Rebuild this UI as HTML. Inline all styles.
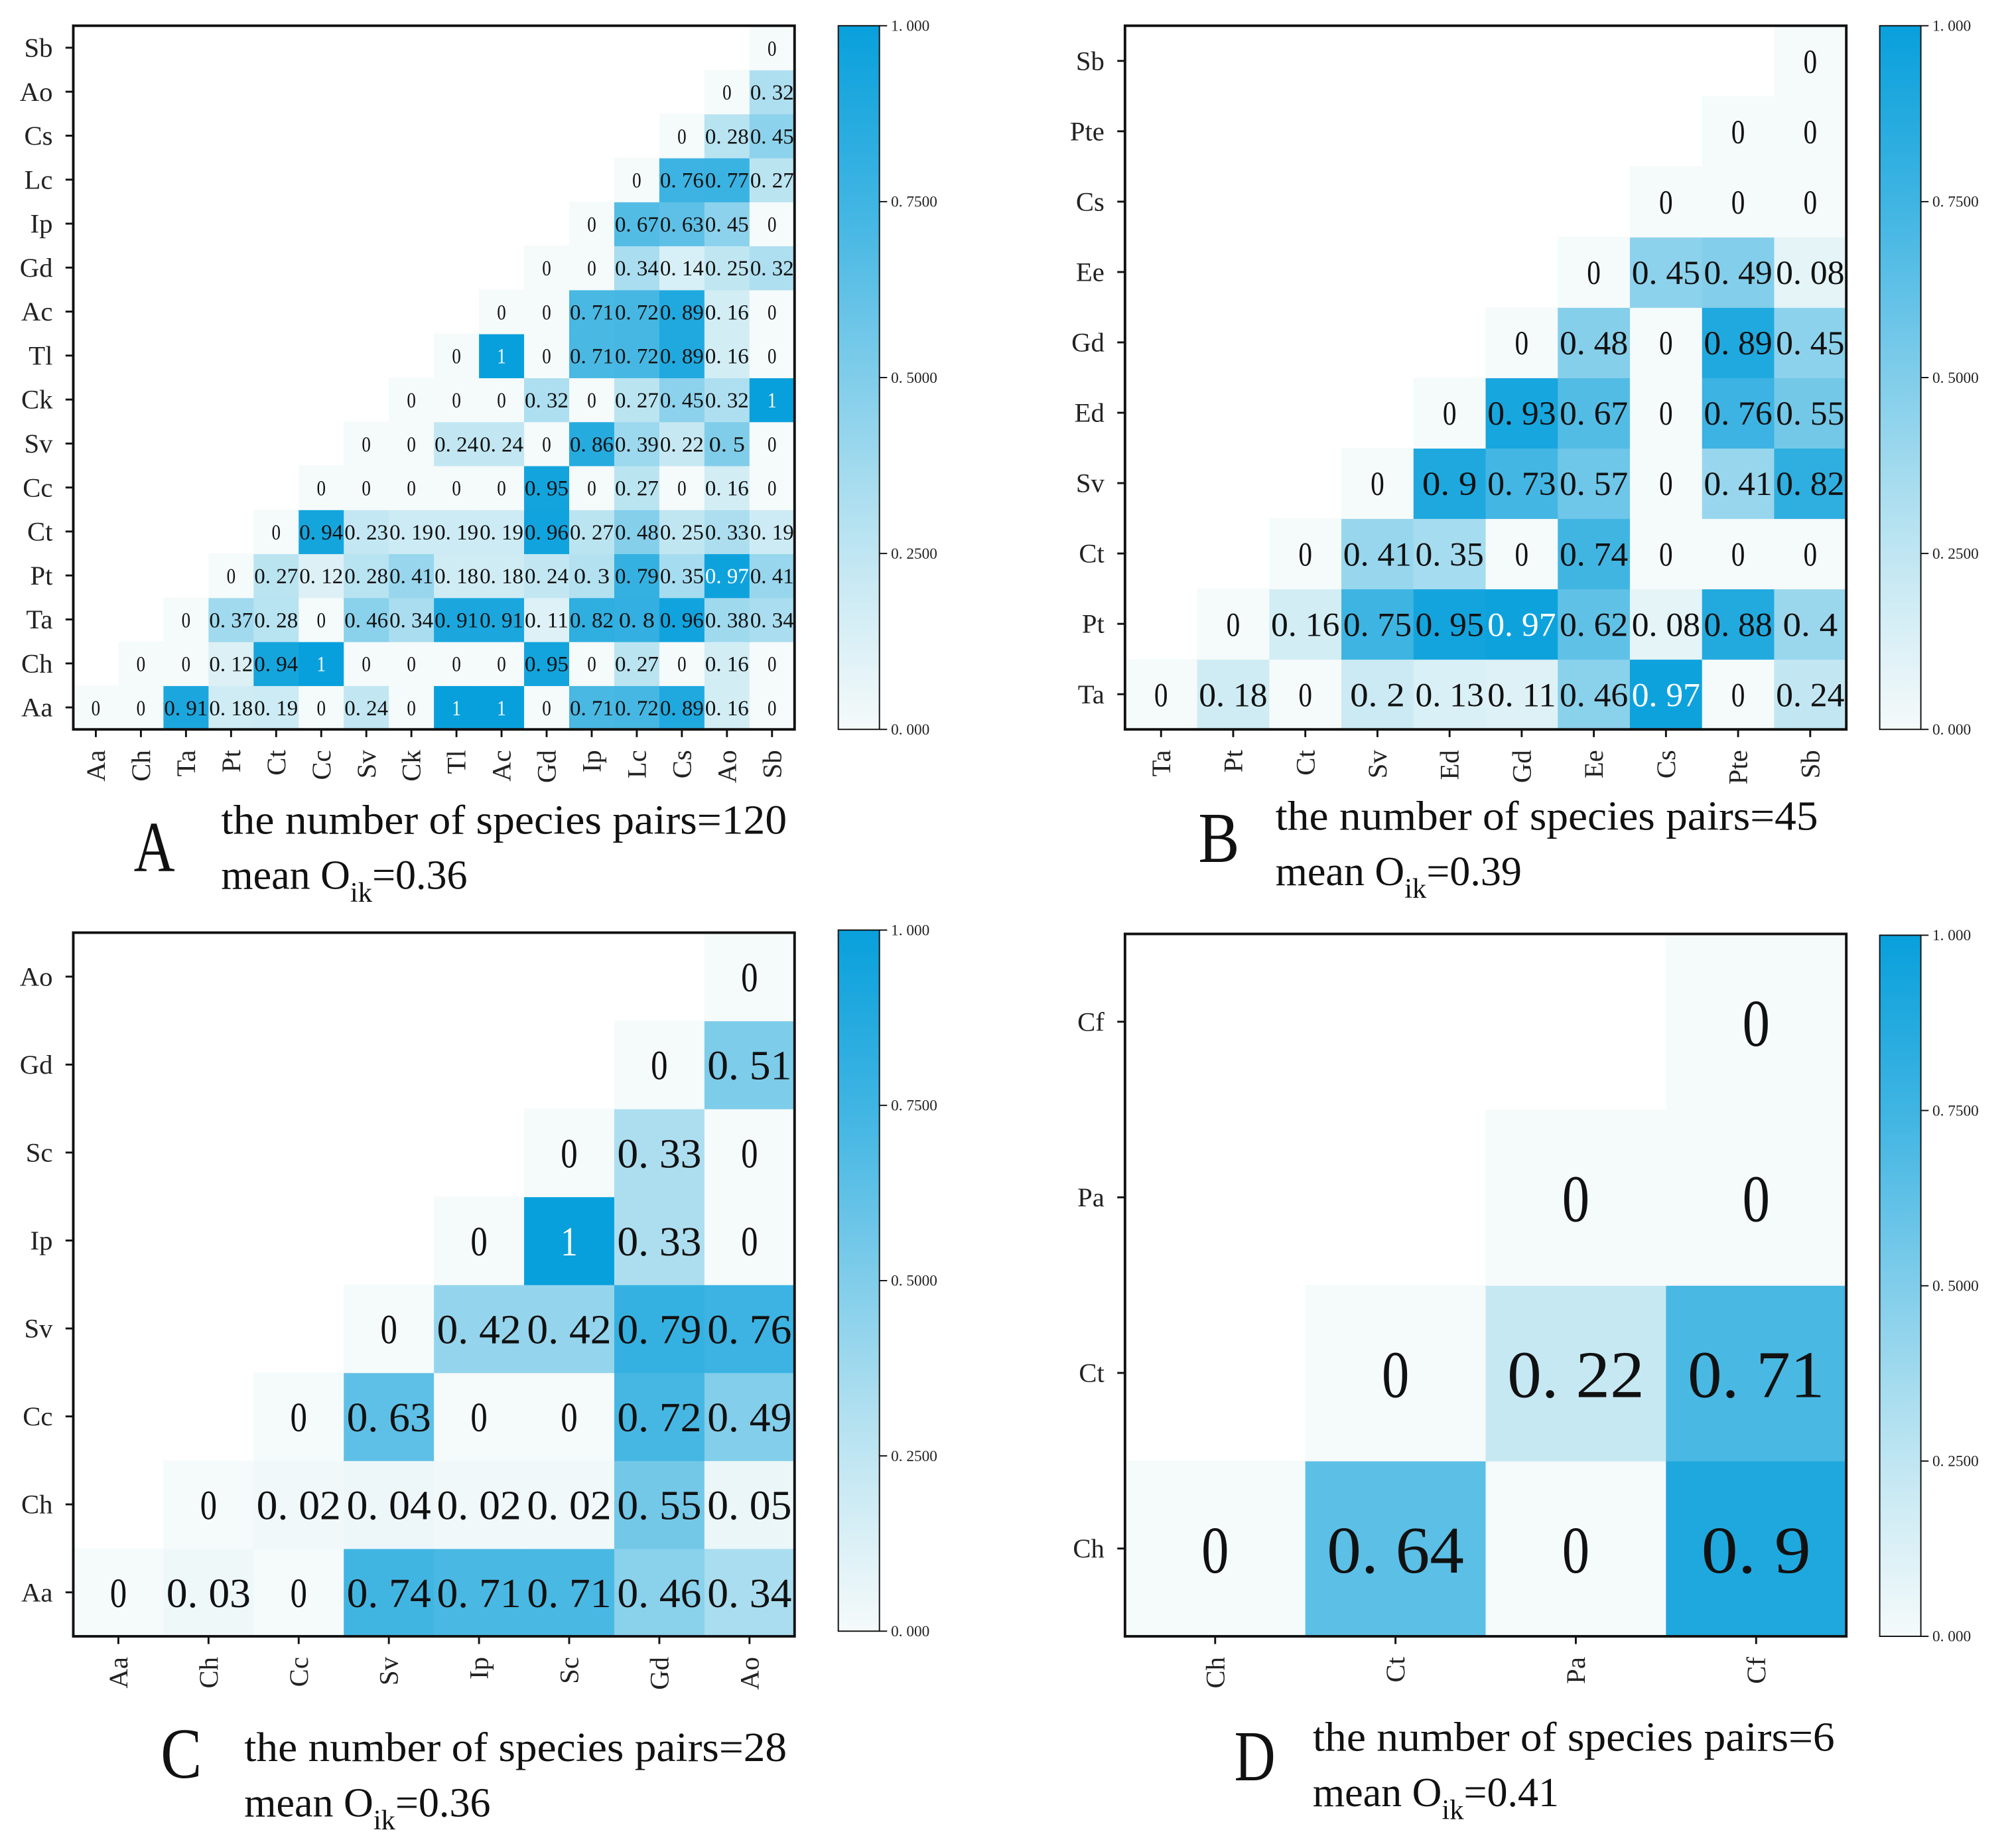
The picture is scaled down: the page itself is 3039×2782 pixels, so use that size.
<!DOCTYPE html>
<html><head><meta charset="utf-8"><style>
html,body{margin:0;padding:0;background:#fff;}
svg{display:block;}
text{font-family:"Liberation Serif","Noto Serif CJK SC",serif;}
</style></head><body>
<svg id="fig" xmlns="http://www.w3.org/2000/svg" width="3039" height="2782" viewBox="0 0 1568 1435" preserveAspectRatio="none"></svg>
<script>
// ---------- Panel A data ----------
const labelsA = ["Aa","Ch","Ta","Pt","Ct","Cc","Sv","Ck","Tl","Ac","Gd","Ip","Lc","Cs","Ao","Sb"];
const valuesA = [
 [0,0,0.91,0.18,0.19,0,0.24,0,1,1,0,0.71,0.72,0.89,0.16,0],
 [0,0,0.12,0.94,1,0,0,0,0,0.95,0,0.27,0,0.16,0],
 [0,0.37,0.28,0,0.46,0.34,0.91,0.91,0.11,0.82,0.8,0.96,0.38,0.34],
 [0,0.27,0.12,0.28,0.41,0.18,0.18,0.24,0.3,0.79,0.35,0.97,0.41],
 [0,0.94,0.23,0.19,0.19,0.19,0.96,0.27,0.48,0.25,0.33,0.19],
 [0,0,0,0,0,0.95,0,0.27,0,0.16,0],
 [0,0,0.24,0.24,0,0.86,0.39,0.22,0.5,0],
 [0,0,0,0.32,0,0.27,0.45,0.32,1],
 [0,1,0,0.71,0.72,0.89,0.16,0],
 [0,0,0.71,0.72,0.89,0.16,0],
 [0,0,0.34,0.14,0.25,0.32],
 [0,0.67,0.63,0.45,0],
 [0,0.76,0.77,0.27],
 [0,0.28,0.45],
 [0,0.32],
 [0]
];
// ---------- Panel B data ----------
const labelsB = ["Ta","Pt","Ct","Sv","Ed","Gd","Ee","Cs","Pte","Sb"];
const valuesB = [
 [0,0.18,0,0.2,0.13,0.11,0.46,0.97,0,0.24],
 [0,0.16,0.75,0.95,0.97,0.62,0.08,0.88,0.4],
 [0,0.41,0.35,0,0.74,0,0,0],
 [0,0.9,0.73,0.57,0,0.41,0.82],
 [0,0.93,0.67,0,0.76,0.55],
 [0,0.48,0,0.89,0.45],
 [0,0.45,0.49,0.08],
 [0,0,0],
 [0,0],
 [0]
];
// ---------- Panel C data ----------
const labelsC = ["Aa","Ch","Cc","Sv","Ip","Sc","Gd","Ao"];
const valuesC = [
 [0,0.03,0,0.74,0.71,0.71,0.46,0.34],
 [0,0.02,0.04,0.02,0.02,0.55,0.05],
 [0,0.63,0,0,0.72,0.49],
 [0,0.42,0.42,0.79,0.76],
 [0,1,0.33,0],
 [0,0.33,0],
 [0,0.51],
 [0]
];
// ---------- Panel D data ----------
const labelsD = ["Ch","Ct","Pa","Cf"];
const valuesD = [
 [0,0.64,0,0.9],
 [0,0.22,0.71],
 [0,0],
 [0]
];
const cbarTicks = [0,0.25,0.5,0.75,1];
const cbarTickLabels = ["0. 000","0. 2500","0. 5000","0. 7500","1. 000"];
const pairsText = ["120","45","28","6"];
const meanText = ["0.36","0.39","0.36","0.41"];

const NS="http://www.w3.org/2000/svg";
const svg=document.getElementById('fig');
function mk(tag,attrs,parent){const e=document.createElementNS(NS,tag);for(const k in attrs)e.setAttribute(k,attrs[k]);(parent||svg).appendChild(e);return e;}
const stops=[[0,[245,250,250]],[0.25,[192,230,242]],[0.5,[128,205,234]],[0.75,[62,180,226]],[1,[8,160,220]]];
function cmap(v){v=Math.max(0,Math.min(1,v));for(let i=1;i<stops.length;i++){if(v<=stops[i][0]){const a=stops[i-1],b=stops[i];const t=(v-a[0])/(b[0]-a[0]);const c=a[1].map((x,j)=>Math.round(x+(b[1][j]-x)*t));return `rgb(${c[0]},${c[1]},${c[2]})`;}}return 'rgb(8,160,220)';}
function fmt(v){if(v===0)return "0";if(v===1)return "1";return String(v).replace("0.","0. ");}

function panel(p){
  const g=mk('g',{});
  
  
  const n=p.labels.length, cw=(p.x1-p.x0)/n, ch=(p.y1-p.y0)/n;
  const xs=i=>p.x0+i*cw, ys=r=>p.y1-(r+1)*ch;
  p.values.forEach((row,r)=>{row.forEach((v,k)=>{const c=r+k;
    const rc=mk('rect',{x:xs(c),y:ys(r),width:cw+0.5,height:ch+0.5,fill:cmap(v)},g);
    
    
    const s=fmt(v);
    const t=mk('text',{x:xs(c)+cw/2,y:ys(r)+ch/2+p.fs*0.36,'text-anchor':'middle','font-size':p.fs,fill:v>=0.965?'#fff':'#111'},g);
    t.setAttribute('textLength',Math.min(cw*0.97,p.fs*0.41*s.length));
    t.setAttribute('lengthAdjust','spacingAndGlyphs');
    t.textContent=s;
    
    
  });});
  const fr=mk('rect',{x:p.x0,y:p.y0,width:p.x1-p.x0,height:p.y1-p.y0,fill:'none',stroke:'#111','stroke-width':2},g);
  
  
  p.labels.forEach((lb,i)=>{
    const cx=xs(i)+cw/2, cy=ys(i)+ch/2;
    mk('line',{x1:p.x0,x2:p.x0-6,y1:cy,y2:cy,stroke:'#111','stroke-width':1.5},g);
    mk('line',{x1:cx,x2:cx,y1:p.y1,y2:p.y1+6,stroke:'#111','stroke-width':1.5},g);
    const yl=mk('text',{x:p.x0-16,y:cy+7,'text-anchor':'end','font-size':21,fill:'#222'},g);
    yl.textContent=lb;
    
    
    const xl=mk('text',{x:0,y:0,'text-anchor':'end','font-size':21,fill:'#222',transform:`translate(${cx+7},${p.y1+16}) rotate(-90)`},g);
    xl.textContent=lb;
    
    
  });
  const gid='grad'+p.id;
  const defs=mk('defs',{},g);const lg=mk('linearGradient',{id:gid,x1:0,y1:1,x2:0,y2:0},defs);
  for(let i=0;i<=10;i++){mk('stop',{offset:i/10,'stop-color':cmap(i/10)},lg);}
  const cb=mk('rect',{x:p.cx,y:p.cy0,width:32,height:p.cy1-p.cy0,fill:`url(#${gid})`,stroke:'#111','stroke-width':1},g);
  
  
  cbarTicks.forEach((tv,i)=>{const y=p.cy1-tv*(p.cy1-p.cy0);
    mk('line',{x1:p.cx+32,x2:p.cx+38,y1:y,y2:y,stroke:'#111','stroke-width':1},g);
    const tl=mk('text',{x:p.cx+41,y:y+4,'font-size':12,fill:'#222'},g);tl.textContent=cbarTickLabels[i];
    
    
  });
  const L=mk('text',{x:p.lx,y:p.ly,'font-size':56,fill:'#111',textLength:32,lengthAdjust:'spacingAndGlyphs'},g);L.textContent=p.id;
  
  
  const t1=mk('text',{x:p.tx,y:p.ty,'font-size':32,fill:'#111',textLength:p.tw,lengthAdjust:'spacingAndGlyphs'},g);
  t1.textContent='the number of species pairs='+p.pairs;
  
  
  const t2=mk('text',{x:p.tx,y:p.ty+43,'font-size':32,fill:'#111'},g);
  
  
  const a=mk('tspan',{},t2);a.textContent='mean O';
  const b=mk('tspan',{dy:10,'font-size':22},t2);b.textContent='ik';
  const c=mk('tspan',{dy:-10},t2);c.textContent='='+p.mean;
}
panel({id:'A',labels:labelsA,values:valuesA,x0:57,x1:618,y0:20,y1:567,fs:17,cx:652,cy0:20,cy1:567,lx:104,ly:677,tx:172,ty:648,tw:440,pairs:pairsText[0],mean:meanText[0]});
panel({id:'B',labels:labelsB,values:valuesB,x0:875,x1:1436,y0:20,y1:567,fs:26,cx:1462,cy0:20,cy1:567,lx:932,ly:670,tx:992,ty:645,tw:422,pairs:pairsText[1],mean:meanText[1]});
panel({id:'C',labels:labelsC,values:valuesC,x0:57,x1:618,y0:725,y1:1272,fs:32,cx:652,cy0:723,cy1:1268,lx:125,ly:1382,tx:190,ty:1369,tw:422,pairs:pairsText[2],mean:meanText[2]});
panel({id:'D',labels:labelsD,values:valuesD,x0:875,x1:1436,y0:726,y1:1272,fs:52,cx:1462,cy0:727,cy1:1272,lx:960,ly:1384,tx:1021,ty:1361,tw:406,pairs:pairsText[3],mean:meanText[3]});
</script>
</body></html>
